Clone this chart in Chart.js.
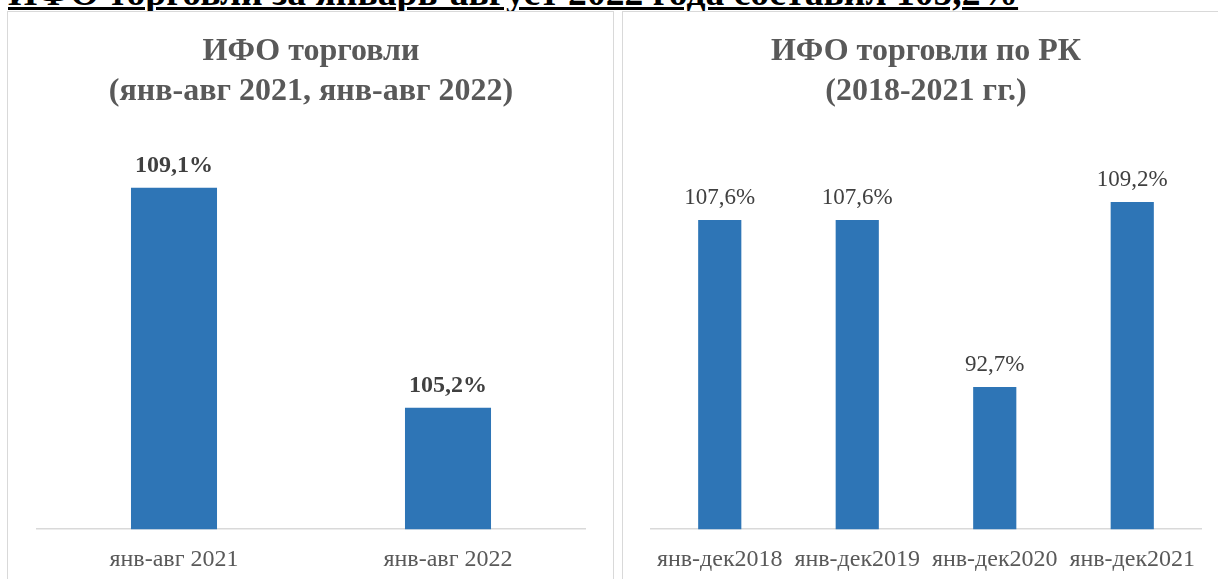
<!DOCTYPE html>
<html>
<head>
<meta charset="utf-8">
<script src="https://cdn.jsdelivr.net/npm/chart.js@4.4.1/dist/chart.umd.min.js"></script>
<style>
  html, body { margin: 0; padding: 0; background: #fff; overflow: hidden; width: 1218px; height: 579px; }
  .head {
    position: absolute; left: 8px; top: -26px; white-space: nowrap;
    font: bold 37.6px "Liberation Serif", "Times New Roman", serif; line-height: 38px;
    color: #000; text-decoration: underline; text-decoration-thickness: 3px;
    text-underline-offset: 2px;
  }
  .panel { position: absolute; top: 11px; width: 605px; height: 600px; border: 1px solid #d9d9d9; background: #fff; }
  .panel canvas { display: block; }
</style>
</head>
<body>
<div class="head">ИФО торговли за январь-август 2022 года составил 105,2%</div>
<div class="panel" style="left:7px"><canvas id="c-left" width="605" height="600"></canvas></div>
<div class="panel" style="left:622px"><canvas id="c-right" width="605" height="600"></canvas></div>
<script>
const leftTitle   = ['ИФО торговли', '(янв-авг 2021, янв-авг 2022)'];
const leftLabels  = ['янв-авг 2021', 'янв-авг 2022'];
const leftValues  = [109.1, 105.2];

const rightTitle  = ['ИФО торговли по РК', '(2018-2021 гг.)'];
const rightLabels = ['янв-дек2018', 'янв-дек2019', 'янв-дек2020', 'янв-дек2021'];
const rightValues = [107.6, 107.6, 92.7, 109.2];

const FONT = '"Liberation Serif", "Times New Roman", serif';
const BAR = '#2e75b6';

const fmtPct = v => v.toFixed(1).replace('.', ',') + '%';

// value labels above the bars
const barLabels = {
  id: 'barLabels',
  afterDatasetsDraw(chart, args, opts) {
    const ctx = chart.ctx;
    const meta = chart.getDatasetMeta(0);
    const vals = chart.data.datasets[0].data;
    ctx.save();
    ctx.font = (opts.bold ? 'bold 24px ' : '23px ') + FONT;
    ctx.fillStyle = '#404040';
    ctx.textAlign = 'center';
    ctx.textBaseline = 'middle';
    meta.data.forEach((bar, i) => ctx.fillText(fmtPct(vals[i]), bar.x, bar.y - 22));
    ctx.restore();
  }
};

function makeChart(id, title, labels, values, yMin, yMax, pad, bold) {
  return new Chart(document.getElementById(id), {
    type: 'bar',
    data: { labels, datasets: [{ data: values, backgroundColor: BAR, barPercentage: 0.314, categoryPercentage: 1 }] },
    options: {
      responsive: false, animation: false,
      layout: { padding: pad },
      plugins: {
        legend: { display: false }, tooltip: { enabled: false },
        title: { display: true, text: title, color: '#595959',
          font: { family: FONT, size: 32, weight: 'bold', lineHeight: 1.25 },
          padding: { top: 20, bottom: 25 } },
        barLabels: { bold },
      },
      scales: {
        y: { display: false, min: yMin, max: yMax },
        x: {
          grid: { display: false, drawTicks: false },
          border: { color: '#d9d9d9', width: 1.5 },
          ticks: { color: '#595959', padding: 16, font: { family: FONT, size: 24 } },
        },
      },
    },
    plugins: [barLabels],
  });
}

makeChart('c-left', leftTitle, leftLabels, leftValues, 103.05, 110, { left: 29, right: 28, bottom: 22 }, true);
makeChart('c-right', rightTitle, rightLabels, rightValues, 80, 115, { left: 28, right: 27, bottom: 22 }, false);
</script>
</body>
</html>
